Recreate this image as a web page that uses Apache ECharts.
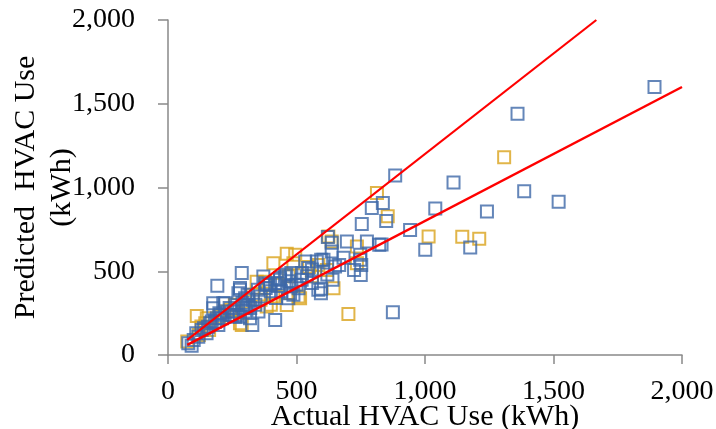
<!DOCTYPE html>
<html><head><meta charset="utf-8">
<script src="https://cdn.jsdelivr.net/npm/echarts@6/dist/echarts.min.js"></script>
<style>html,body{margin:0;padding:0;background:#fff}#c{width:716px;height:429px}</style>
</head><body><div id="c"></div>
<script>
const xTicks = [0, 500, 1000, 1500, 2000];
const yTicks = [0, 500, 1000, 1500, 2000];
const xTitle = 'Actual HVAC Use (kWh)';
const yTitle = 'Predicted  HVAC Use\n(kWh)';

const bluePoints = [
[1893,1600],[1360,1440],[1111,1030],[1386,977],[1520,915],[1241,857],[1040,875],[942,746],[1176,642],[1001,628],
[884,1071],[836,907],[793,877],[849,800],[754,782],[831,660],[875,255],[774,678],[822,658],[696,678],
[637,670],[622,705],[637,618],[683,580],[748,598],[748,568],[752,538],[724,508],[750,478],[666,538],
[650,528],[596,568],[534,558],[579,558],[605,568],[545,520],[560,510],[521,489],[596,395],[595,369],
[585,389],[508,399],[475,369],[468,339],[488,359],[436,449],[417,429],[384,419],[378,429],[397,419],
[371,468],[430,429],[436,459],[455,470],[470,440],[480,490],[460,480],[417,209],[352,259],[319,219],
[328,179],[300,339],[306,299],[293,279],[313,299],[287,489],[280,389],[274,369],[280,400],[192,413],
[79,70],[92,55],[118,109],[131,150],[156,169],[164,190],[183,199],[196,179],[215,309],[176,309],
[176,279],[222,309],[248,239],[261,229],[267,239],[280,229],[190,219],[205,240],[230,260],[240,280],
[150,130],[140,160],[170,200],[200,250],[210,220],[255,260],[290,310],[300,260],[320,280],[340,300],
[360,350],[380,400],[400,380],[420,340],[440,380],[500,420],[520,450],[540,470],[560,430],[620,480],
[640,450],[480,410],[350,390],[330,330],[310,360],[100,90],[110,130]
];
const goldPoints = [
[1308,1180],[813,967],[855,829],[1014,708],[1145,706],[1211,694],[624,708],[637,678],[735,648],[735,548],
[618,508],[549,526],[585,538],[462,604],[495,598],[410,548],[488,548],[644,399],[702,245],[514,339],
[384,289],[345,438],[378,438],[410,349],[462,299],[508,349],[280,190],[287,179],[241,239],[245,270],
[151,219],[112,233],[75,80],[130,170],[145,190],[200,230],[260,300],[300,320],[330,360],[360,330],
[430,420],[560,470],[470,470],[160,150],[220,260],[120,120],[400,300]
];
const upperLine = [[75,90],[1666.7,2000]];
const lowerLine = [[75,60],[2000,1600]];

const FONT = 'Liberation Serif';
const axisCol = '#898989';
const chart = echarts.init(document.getElementById('c'));
chart.setOption({
  animation: false,
  grid: {left: 168, right: 34, top: 20, bottom: 74, containLabel: false, outerBoundsMode: 'none'},
  xAxis: {
    type: 'value', min: xTicks[0], max: xTicks[xTicks.length-1], interval: 500,
    name: xTitle, nameLocation: 'middle', nameGap: 47, nameMoveOverlap: false,
    nameTextStyle: {fontFamily: FONT, fontSize: 30, color: '#000'},
    axisLine: {show: true, lineStyle: {color: axisCol, width: 1.5}},
    axisTick: {show: true, length: 9, lineStyle: {color: axisCol, width: 1.5}},
    splitLine: {show: false},
    axisLabel: {fontFamily: FONT, fontSize: 28, color: '#000', margin: 23,
      formatter: v => v.toLocaleString('en-US')}
  },
  yAxis: {
    type: 'value', min: yTicks[0], max: yTicks[yTicks.length-1], interval: 500,
    name: yTitle, nameLocation: 'middle', nameGap: 88, nameRotate: 90, nameMoveOverlap: false,
    nameTextStyle: {fontFamily: FONT, fontSize: 30, color: '#000', lineHeight: 36, align: 'center'},
    axisLine: {show: true, lineStyle: {color: axisCol, width: 1.5}},
    axisTick: {show: true, length: 10, lineStyle: {color: axisCol, width: 1.5}},
    splitLine: {show: false},
    axisLabel: {fontFamily: FONT, fontSize: 28, color: '#000', margin: 33,
      formatter: v => v.toLocaleString('en-US')}
  },
  series: [
    {type: 'scatter', data: goldPoints, symbol: 'rect', symbolSize: 12,
     itemStyle: {color: 'rgba(0,0,0,0)', borderColor: '#d9a21b', borderWidth: 2}, z: 2},
    {type: 'scatter', data: bluePoints, symbol: 'rect', symbolSize: 12,
     itemStyle: {color: 'rgba(0,0,0,0)', borderColor: '#3d68a8', borderWidth: 2}, z: 3},
    {type: 'line', data: upperLine, showSymbol: false, symbol: 'none',
     lineStyle: {color: '#ff0000', width: 2.2}, z: 5},
    {type: 'line', data: lowerLine, showSymbol: false, symbol: 'none',
     lineStyle: {color: '#ff0000', width: 2.5}, z: 5}
  ]
});
</script></body></html>
